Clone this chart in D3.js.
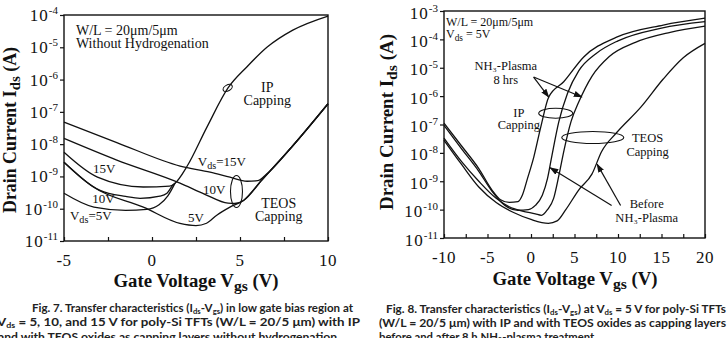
<!DOCTYPE html>
<html>
<head>
<meta charset="utf-8">
<script src="https://cdn.jsdelivr.net/npm/d3@7"></script>
<style>
    body { margin: 0; background: #fff; }
    svg { display: block; }
    .tick-num { font-family: "Liberation Serif", serif; font-size: 17px; fill: #111; }
    .note { font-family: "Liberation Serif", serif; font-size: 12.5px; fill: #111; }
    .note.big { font-size: 14px; }
    .title { font-family: "Liberation Serif", serif; font-size: 18px; font-weight: bold; fill: #111; }
    .caption { font-family: Lato, sans-serif; font-size: 10.5px; font-weight: bold; fill: #222; }
</style>
</head>
<body>
<div id="chart"></div>
<script>
// ---- Fig. 7 : low gate bias, without hydrogenation ----
const fig7XTicks = [-5, -2.5, 0, 2.5, 5, 7.5, 10]
const fig7YTicks = [1e-11, 1e-10, 1e-9, 1e-8, 1e-7, 1e-6, 1e-5, 1e-4]

// [Vgs, Ids]
const ipVds15 = [[-5, 5.6e-9], [-3.1, 9.5e-10], [-0.5, 4.7e-10], [1.0, 5.0e-10], [1.31, 6.2e-10],
    [2.0, 2.1e-9], [3.1, 3.2e-8], [4.32, 5.5e-7], [5.4, 2.5e-6], [6.53, 1.0e-5], [8.0, 3.4e-5], [10, 9.3e-5]]
const ipVds10 = [[-5, 2.75e-9], [-2.95, 3.7e-10], [-1.5, 2.4e-10], [-0.68, 2.1e-10], [0.45, 2.45e-10],
    [0.85, 3.0e-10], [1.14, 5.0e-10], [1.31, 6.2e-10]]
const ipVds5 = [[-5, 3.0e-10], [-3.3, 1.12e-10], [-1.5, 8.9e-11], [-0.3, 9.5e-11], [0.4, 1.32e-10],
    [0.9, 2.5e-10], [1.31, 6.2e-10]]
const teosVds15 = [[-5, 4.8e-8], [-2, 1.12e-8], [1.6, 2.1e-9], [3.3, 1.35e-9], [4.43, 9.5e-10],
    [5.4, 7.1e-10], [6.0, 7.4e-10], [6.5, 1.17e-9], [8.0, 8.9e-9], [10, 1.78e-7]]
const teosVds10 = [[-5, 1.5e-8], [-2, 3.2e-9], [1.59, 6.2e-10], [3.0, 2.8e-10], [4.32, 1.48e-10],
    [4.7, 1.45e-10], [5.2, 1.8e-10], [6.23, 7.6e-10], [8.0, 8.9e-9], [10, 1.78e-7]]
const teosVds5 = [[-5, 2.75e-9], [-3.33, 4.7e-10], [-0.49, 1.12e-10], [1.59, 3.5e-11], [2.5, 3.0e-11],
    [3.1, 3.55e-11], [3.68, 6.3e-11], [4.43, 1.12e-10], [5.2, 1.8e-10], [6.23, 7.6e-10], [8.0, 8.9e-9], [10, 1.78e-7]]

// ---- Fig. 8 : Vds = 5 V, before / after NH3 plasma ----
const fig8XTicks = [-10, -7.5, -5, -2.5, 0, 2.5, 5, 7.5, 10, 12.5, 15, 17.5, 20]
const fig8YTicks = [1e-11, 1e-10, 1e-9, 1e-8, 1e-7, 1e-6, 1e-5, 1e-4, 1e-3]

const ipAfter = [[-10, 1.12e-7], [-8, 1.78e-8], [-6, 2.8e-9], [-4.5, 5.0e-10], [-3.5, 2.24e-10], [-2.5, 1.8e-10],
    [-1.5, 1.9e-10], [-1, 3.2e-10], [-0.4, 1.26e-9], [0.32, 7.1e-9], [1.12, 8.1e-8], [2.04, 9.3e-7],
    [3.76, 3.2e-6], [6.06, 2.4e-5], [9.84, 1.2e-4], [15.2, 3.2e-4], [20, 5.6e-4]]
const ipBefore = [[-10, 9.3e-8], [-8, 1.41e-8], [-6, 2.24e-9], [-4.5, 4.5e-10], [-3, 1.41e-10], [-1.5, 9.5e-11],
    [-0.3, 1.0e-10], [0.5, 1.41e-10], [1.3, 3.2e-10], [1.9, 1.26e-9], [2.4, 7.9e-9], [3.2, 1.26e-7], [4.2, 1.26e-6],
    [5.5, 7.9e-6], [7.5, 3.2e-5], [10, 8.9e-5], [15, 2.5e-4], [20, 4.2e-4]]
const teosAfter = [[-10, 3.3e-8], [-8, 5.0e-9], [-6, 1.0e-9], [-4, 2.5e-10], [-2.5, 1.26e-10], [-1, 8.9e-11],
    [0.5, 7.1e-11], [1.2, 6.3e-11], [1.9, 1.0e-10], [2.6, 2.5e-10], [3.2, 1.58e-9], [3.8, 1.26e-8], [4.6, 1.26e-7],
    [5.5, 6.3e-7], [7, 5.0e-6], [9, 2.5e-5], [12, 7.9e-5], [16, 1.78e-4], [20, 2.95e-4]]
const teosBefore = [[-10, 2.8e-8], [-8, 4.0e-9], [-6, 6.3e-10], [-4, 1.78e-10], [-2, 7.9e-11], [0, 4.5e-11],
    [2, 3.3e-11], [3, 4.0e-11], [4, 1.0e-10], [5.5, 5.0e-10], [7, 1.78e-9], [8.12, 1.12e-8], [9.8, 5.0e-8],
    [12.6, 4.0e-7], [15.2, 4.0e-6], [17.5, 2.24e-5], [20, 7.2e-5]]

class TransferChart {
    constructor(_config, _series) {
        this.config = _config
        this.series = _series
        this.initVis()
    }

    initVis() {
        var vis = this
        var c = vis.config

        vis.xScale = d3.scaleLinear().domain(c.xDomain).range([c.left, c.right])
        vis.yScale = d3.scaleLog().domain(c.yDomain).range([c.bottom, c.top])

        vis.g = c.svg.append("g")

        // frame
        vis.g.append("rect")
            .attr("x", c.left).attr("y", c.top)
            .attr("width", c.right - c.left).attr("height", c.bottom - c.top)
            .attr("fill", "none").attr("stroke", "#111").attr("stroke-width", 1.4)

        vis.xAxis = d3.axisBottom(vis.xScale)
            .tickValues(c.xTicks)
            .tickSize(-4)
            .tickFormat("")
        vis.g.append("g")
            .attr("transform", `translate(0,${c.bottom})`)
            .call(vis.xAxis)
            .call(g => g.select(".domain").remove())
            .selectAll("line").attr("stroke", "#111").attr("stroke-width", 1.2)

        vis.yAxis = d3.axisLeft(vis.yScale)
            .tickValues(c.yTicks)
            .tickSize(4)
            .tickFormat("")
        vis.g.append("g")
            .attr("transform", `translate(${c.left},0)`)
            .call(vis.yAxis)
            .call(g => g.select(".domain").remove())
            .selectAll("line").attr("stroke", "#111").attr("stroke-width", 1.2)

        // x tick labels (whole numbers only)
        vis.g.selectAll(".xlab")
            .data(c.xTicks.filter(d => d % 5 === 0))
            .join("text")
            .attr("class", "tick-num")
            .attr("x", d => vis.xScale(d))
            .attr("y", c.bottom + 25)
            .attr("text-anchor", "middle")
            .style("letter-spacing", "0.5px")
            .text(d => d)

        // y tick labels 10^n
        var ylab = vis.g.selectAll(".ylab")
            .data(c.yTicks)
            .join("text")
            .attr("class", "tick-num")
            .attr("x", c.left - 6)
            .attr("y", d => vis.yScale(d) + 6 + c.yLabShift)
            .attr("text-anchor", "end")
            .style("letter-spacing", "1px")
        ylab.append("tspan").text("10")
        ylab.append("tspan")
            .attr("dy", -7)
            .style("font-size", "11px")
            .style("letter-spacing", "0px")
            .text(d => Math.round(Math.log10(d)))

        // axis titles
        var xt = vis.g.append("text")
            .attr("class", "title")
            .attr("x", c.xTitleX).attr("y", c.xTitleY)
            .attr("text-anchor", "middle")
            .attr("textLength", 165).attr("lengthAdjust", "spacingAndGlyphs")
        xt.append("tspan").text("Gate Voltage V")
        xt.append("tspan").attr("dy", 4).style("font-size", "15px").text("gs")
        xt.append("tspan").attr("dy", -4).text(" (V)")

        var yt = vis.g.append("text")
            .attr("class", "title")
            .attr("transform", `translate(${c.yTitleX},${c.yTitleY}) rotate(-90)`)
            .attr("text-anchor", "middle")
            .attr("textLength", c.yTitleLen).attr("lengthAdjust", "spacingAndGlyphs")
        yt.append("tspan").text("Drain Current I")
        yt.append("tspan").attr("dy", 4).style("font-size", "15px").text("ds")
        yt.append("tspan").attr("dy", -4).text(" (A)")

        vis.renderVis()
    }

    renderVis() {
        var vis = this
        var line = d3.line()
            .x(d => vis.xScale(d[0]))
            .y(d => vis.yScale(d[1]))
            .curve(d3.curveMonotoneX)

        vis.g.selectAll(".curve")
            .data(vis.series)
            .join("path")
            .attr("class", "curve")
            .attr("fill", "none")
            .attr("stroke", "#111")
            .attr("stroke-width", 1.3)
            .attr("d", d => line(d))
    }

    // position of a point given in data units
    px(v, i) { return [this.xScale(v), this.yScale(i)] }
}

var svg = d3.select("#chart").append("svg")
    .attr("width", 728)
    .attr("height", 338)

svg.append("defs").append("marker")
    .attr("id", "arrow")
    .attr("viewBox", "0 0 10 10")
    .attr("refX", 9).attr("refY", 5)
    .attr("markerWidth", 9).attr("markerHeight", 9)
    .attr("markerUnits", "userSpaceOnUse")
    .attr("orient", "auto")
    .append("path").attr("d", "M0,1.5 L10,5 L0,8.5 Z").attr("fill", "#111")

var fig7 = new TransferChart({
    svg: svg,
    xDomain: [-5, 10], yDomain: [1e-11, 1e-4],
    left: 64, right: 328, top: 15, bottom: 241,
    xTicks: fig7XTicks, yTicks: fig7YTicks, yLabShift: 0,
    xTitleX: 196, xTitleY: 287, yTitleX: 16, yTitleY: 130, yTitleLen: 166
}, [ipVds15, ipVds10, ipVds5, teosVds15, teosVds10, teosVds5])

var fig8 = new TransferChart({
    svg: svg,
    xDomain: [-10, 20], yDomain: [1e-11, 1e-3],
    left: 444, right: 705, top: 11, bottom: 238,
    xTicks: fig8XTicks, yTicks: fig8YTicks, yLabShift: 1.5,
    xTitleX: 575, xTitleY: 285, yTitleX: 393, yTitleY: 122, yTitleLen: 176
}, [ipAfter, ipBefore, teosAfter, teosBefore])

// ---- annotation helpers (all placed in data units) ----
function note(chart, v, i, lines, anchor, cls, gap) {
    var p = chart.px(v, i)
    var t = svg.append("text").attr("class", "note " + (cls || ""))
        .attr("x", p[0]).attr("y", p[1])
        .attr("text-anchor", anchor || "start")
    lines.forEach(function (l, k) {
        t.append("tspan").attr("x", p[0]).attr("dy", k === 0 ? 0 : (gap || 12)).text(l)
    })
    return t
}
function subNote(chart, v, i, a, sub, b, size) {
    var p = chart.px(v, i)
    var t = svg.append("text").attr("class", "note")
        .attr("x", p[0]).attr("y", p[1])
        .style("font-size", (size || 12) + "px")
    t.append("tspan").text(a)
    t.append("tspan").attr("dy", 3).style("font-size", (size || 12) * 0.78 + "px").text(sub)
    t.append("tspan").attr("dy", -3).text(b)
    return t
}
function ring(chart, v, i, rx, ry, rot) {
    var p = chart.px(v, i)
    svg.append("ellipse")
        .attr("cx", p[0]).attr("cy", p[1]).attr("rx", rx).attr("ry", ry)
        .attr("transform", `rotate(${rot || 0},${p[0]},${p[1]})`)
        .attr("fill", "none").attr("stroke", "#111").attr("stroke-width", 1.1)
}
function arrow(chart, v0, i0, v1, i1) {
    var a = chart.px(v0, i0), b = chart.px(v1, i1)
    svg.append("line")
        .attr("x1", a[0]).attr("y1", a[1]).attr("x2", b[0]).attr("y2", b[1])
        .attr("stroke", "#111").attr("stroke-width", 1.2)
        .attr("marker-end", "url(#arrow)")
}

// ---- Fig. 7 notes ----
note(fig7, -4.32, 2.4e-5, ["W/L = 20\u03bcm/5\u03bcm", "Without Hydrogenation"], "start", "big", 13)
note(fig7, 6.55, 4.2e-7, ["IP", "Capping"], "middle", "big", 13)
ring(fig7, 4.3, 5.5e-7, 5, 3, -30)
subNote(fig7, 2.6, 2.1e-9, "V", "ds", "=15V", 13)
subNote(fig7, 2.9, 2.8e-10, "10V", "", "", 13)
subNote(fig7, -3.35, 1.26e-9, "15V", "", "", 13)
subNote(fig7, -3.4, 1.48e-10, "10V", "", "", 13)
subNote(fig7, -4.66, 4.4e-11, "V", "ds", "=5V", 13)
subNote(fig7, 2.05, 3.8e-11, "5V", "", "", 13)
note(fig7, 7.2, 1.05e-10, ["TEOS", "Capping"], "middle", "big", 13)
ring(fig7, 4.8, 3.4e-10, 6, 16, 0)

// ---- Fig. 8 notes ----
note(fig8, -9.77, 3.0e-4, ["W/L = 20\u03bcm/5\u03bcm"]).style("font-size", "12px")
subNote(fig8, -9.77, 1.15e-4, "V", "ds", " = 5V", 12)
note(fig8, -2.9, 8.3e-6, ["NH\u2083-Plasma"], "middle")
note(fig8, -2.9, 2.6e-6, ["8 hrs"], "middle")
arrow(fig8, 0.3, 4.7e-6, 2.04, 9.3e-7)
arrow(fig8, 0.3, 4.7e-6, 5.85, 9.3e-7)
note(fig8, -1.4, 1.8e-7, ["IP", "Capping"], "middle")
ring(fig8, 2.84, 2.5e-7, 17, 5, 0)
note(fig8, 13.4, 2.4e-8, ["TEOS", "Capping"], "middle", "", 14)
ring(fig8, 7.1, 3.5e-8, 31, 6, 0)
note(fig8, 13.3, 1.12e-10, ["Before", "NH\u2083-Plasma"], "middle", "", 14)
arrow(fig8, 9.27, 1.4e-10, 2.2, 3.0e-9)
arrow(fig8, 10.3, 1.4e-10, 7.6, 4.0e-9)

// ---- captions ----
function caption(x, y, len, parts) {
    var t = svg.append("text").attr("class", "caption").attr("x", x).attr("y", y)
    if (len) t.attr("textLength", len).attr("lengthAdjust", "spacingAndGlyphs")
    var shift = 0
    parts.forEach(function (p) {
        if (typeof p === "string") {
            t.append("tspan").attr("dy", -shift).text(p)
            shift = 0
        } else {
            t.append("tspan").attr("dy", 2).style("font-size", "7px").text(p.sub)
            shift = 2
        }
    })
}
caption(32, 312, 321, ["Fig. 7. Transfer characteristics (I", {sub: "ds"}, "-V", {sub: "gs"}, ") in low gate bias region at"])
caption(-3, 326, 363, ["V", {sub: "ds"}, " = 5, 10, and 15 V for poly-Si TFTs (W/L = 20/5 \u03bcm) with IP"])
caption(-2, 341, 342, ["and with TEOS oxides as capping layers without hydrogenation."])
caption(386, 313, 340, ["Fig. 8. Transfer characteristics (I", {sub: "ds"}, "-V", {sub: "gs"}, ") at V", {sub: "ds"}, " = 5 V for poly-Si TFTs"])
caption(379, 327, 347, ["(W/L = 20/5 \u03bcm) with IP and with TEOS oxides as capping layers"])
caption(379, 341, 218, ["before and after 8 h NH", {sub: "3"}, "-plasma treatment."])
</script>
</body>
</html>
